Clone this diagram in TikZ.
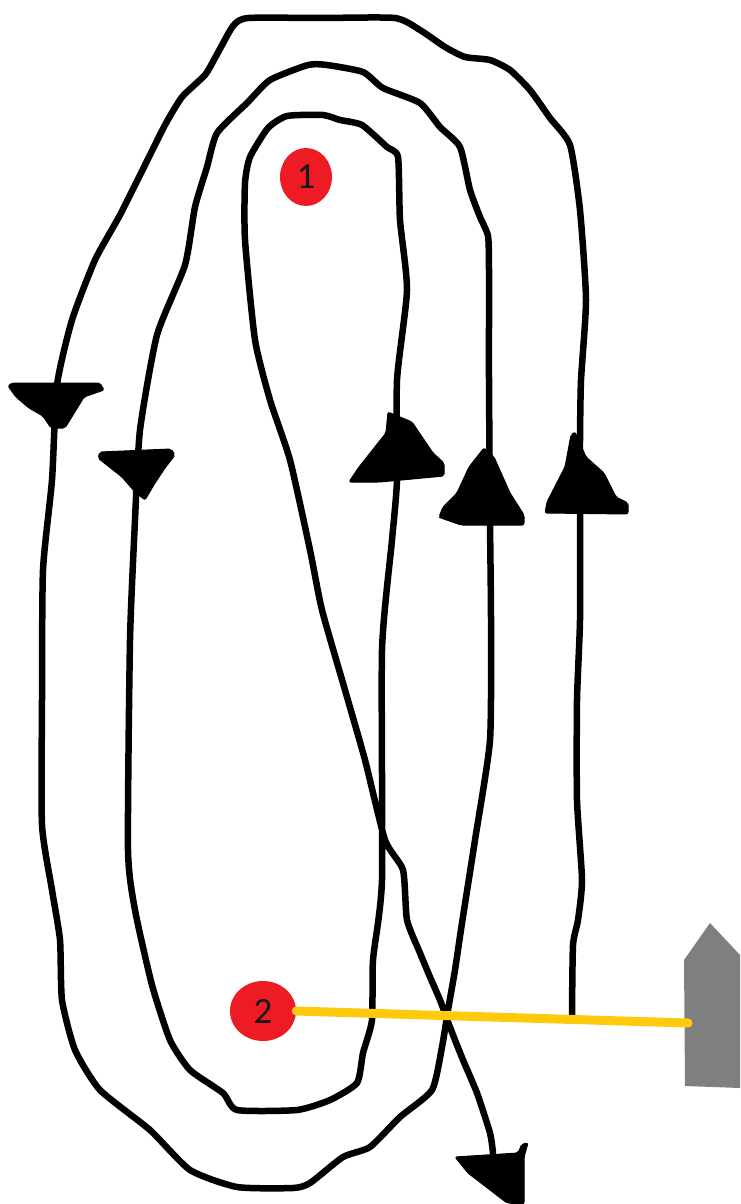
\documentclass[tikz,border=0pt]{standalone}
\usepackage{fontspec}
\setmainfont{Carlito}
\usetikzlibrary{shapes.geometric}
\tikzset{
  track/.style={draw=black,line width=6.5pt,line cap=round,line join=round},
  tip/.style={fill=black,draw=black,line width=1pt,line join=round,rounded corners=2pt},
  mark1/.style={ellipse,fill=markred,inner sep=0pt,font=\fontsize{37}{37}\selectfont,text=black!90},
  house/.style={fill=housegrey,draw=none},
  beam/.style={draw=beamyellow,line width=9pt,line cap=round}
}
\definecolor{markred}{HTML}{ED1C24}
\definecolor{housegrey}{HTML}{7F7F7F}
\definecolor{beamyellow}{HTML}{FFC90E}
\begin{document}
\begin{tikzpicture}[x=1pt,y=-1pt]
\useasboundingbox (0,0) rectangle (740,1204);
% spiral track
\draw[track] plot[smooth,tension=0.35] coordinates {
 (572,1015)(573,945)(578,920)(582,880)(577,800)(577,700)(580,620)(580,510)(580,440)(581,380)(586,300)(580,210)(570,145)(550,118)(530,90)(510,70)(490,60)(465,57)(445,47)(420,30)(395,18)(320,18)(248,18)(233,26)(215,58)(205,75)(182,97)(165,125)(145,165)(120,215)(95,260)(72,320)(57,385)(52,480)(43,570)(42,700)(42,825)(52,890)(60,940)(62,1000)(75,1050)(100,1090)(150,1130)(190,1170)(237,1187)(293,1188)(310,1183)(343,1157)(370,1147)(400,1117)(432,1090)(442,1047)(448,1010)(455,970)(462,923)(475,840)(490,740)(491,620)(490,520)(489,380)(489,270)(488,236)(480,217)(470,190)(460,147)(440,127)(420,103)(383,88)(363,72)(327,65)(308,65)(270,80)(247,103)(217,133)(207,167)(195,207)(185,265)(157,335)(140,430)(135,520)(130,640)(128,850)(135,910)(152,985)(170,1040)(190,1070)(223,1093)(237,1110)(297,1110)(330,1100)(357,1083)(363,1053)(372,1020)(373,960)(382,880)(382,650)(392,540)(397,480)(397,380)(407,290)(400,220)(398,157)(387,147)(362,125)(340,120)(323,115)(287,116)(268,128)(250,157)(245,183)(245,240)(255,340)(270,400)(290,460)(310,550)(322,610)(345,690)(365,760)(385,840)(403,870)(407,920)(420,953)(430,977)(440,1000)(448,1022)(455,1040)(463,1060)(477,1093)(490,1133)(493,1153)};
% arrowheads
\fill[tip] (8,386)--(12,383)--(100,383)--(104,390)--(84,397)--(73,415)--(65,428)--(51,428)--(43,416)--(29,408)--(16,397)--cycle;
\fill[tip] (98,458)--(100,452)--(171,449)--(175,455)--(165,468)--(155,483)--(145,500)--(135,492)--(122,477)--(108,466)--cycle;
\fill[tip] (349,482)--(359,467)--(386,433)--(388,412)--(412,422)--(433,453)--(444,463)--(444,476)--(380,482)--cycle;
\fill[tip] (439,517)--(443,507)--(457,493)--(469,467)--(484,448)--(494,457)--(510,493)--(524,515)--(524,525)--(461,525)--(441,518)--cycle;
\fill[tip] (545,513)--(547,502)--(565,467)--(571,435)--(575,432)--(586,457)--(604,473)--(616,497)--(628,503)--(628,514)--cycle;
\fill[tip] (455,1157)--(468,1173)--(507,1203)--(524,1204)--(524,1157)--(528,1143)--(522,1144)--(518,1153)--cycle;
% house
\fill[house] (684,960)--(710,923)--(740,955)--(740,1088)--(685,1086)--cycle;
\coordinate (beamend) at (688,1023);
% markers
\node[mark1,minimum width=52pt,minimum height=58pt] (m1) at (306,177) {1};
\node[mark1,minimum width=66pt,minimum height=60pt] (m2) at (263,1011) {2};
\draw[beam] (m2.east) -- (beamend);
\end{tikzpicture}
\end{document}
